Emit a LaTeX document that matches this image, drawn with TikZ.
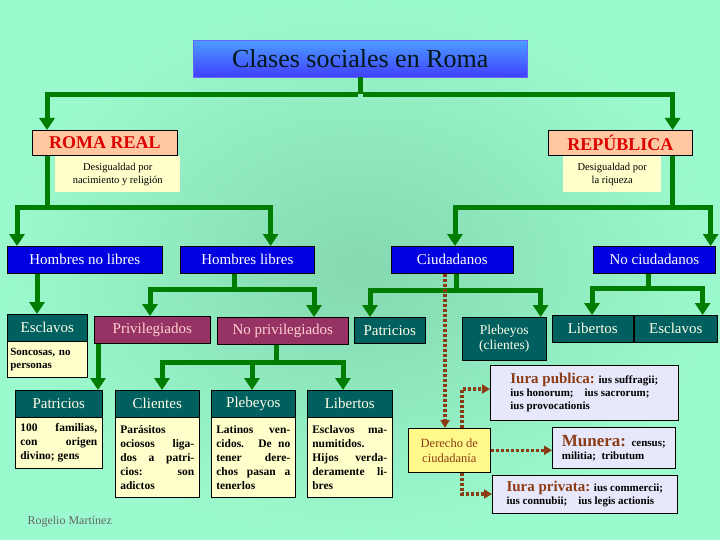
\documentclass[tikz,border=0pt]{standalone}
\usepackage{fontspec}
\setmainfont{Liberation Serif}
\usetikzlibrary{arrows.meta,calc}
\definecolor{bgout}{RGB}{155,250,205}
\definecolor{bgin}{RGB}{132,216,176}
\definecolor{gr}{RGB}{0,125,0}
\definecolor{bl}{RGB}{0,0,225}
\definecolor{teal}{RGB}{0,96,96}
\definecolor{maroon}{RGB}{150,50,100}
\definecolor{peach}{RGB}{255,200,160}
\definecolor{cream}{RGB}{255,255,204}
\definecolor{lav}{RGB}{232,232,252}
\definecolor{brn}{RGB}{140,60,20}
\definecolor{redt}{RGB}{220,0,0}
\tikzset{
 x=1pt,y=-1pt,
 base/.style={draw=black,line width=0.6pt,anchor=north west,inner sep=2pt,font=\fontsize{15}{17}\selectfont},
 bluebox/.style={base,fill=bl,text=white},
 tealbox/.style={base,fill=teal,text=white!90!yellow},
 marbox/.style={base,fill=maroon,text=pink!70!white},
 peachbox/.style={base,fill=peach,text=redt,font=\fontsize{18}{20}\selectfont\bfseries},
 body/.style={base,fill=cream,font=\fontsize{11.5}{14}\selectfont\bfseries,align=justify,inner xsep=5pt,inner ysep=4pt},
 note/.style={anchor=north west,fill=cream,font=\fontsize{10.5}{13}\selectfont,align=center},
 lavbox/.style={base,fill=lav,font=\fontsize{11}{13}\selectfont\bfseries,align=left,inner xsep=5pt},
 gline/.style={gr,line width=5pt},
 garrow/.style={gr,line width=5pt,-{Triangle[width=15pt,length=12pt]}},
 darrow/.style={brn,line width=3.5pt,dash pattern=on 3pt off 2pt,-{Triangle[width=9pt,length=8pt]}},
}
\begin{document}
\begin{tikzpicture}
\useasboundingbox (0,0) rectangle (720,540);
\shade[inner color=bgin,outer color=bgout] (0,0) rectangle (720,540);
% title
\node[anchor=north west,minimum width=334pt,minimum height=37pt,inner sep=0,
 top color=blue!55!cyan!70!white,bottom color=blue!75!white,draw=blue!60,
 text=black!75!teal,font=\fontsize{26}{28}\selectfont] (title) at (193,40) {Clases sociales en Roma};
\node[peachbox,minimum width=145pt,minimum height=25pt] (rr) at (32,130) {ROMA REAL};
\node[peachbox,minimum width=144pt,minimum height=25pt] (rep) at (548,130) {REPÚBLICA};
\node[note,minimum width=125pt,minimum height=36pt] (n1) at (55,156) {Desigualdad por\\nacimiento y religión};
\node[note,minimum width=98pt,minimum height=36pt] (n2) at (563,156) {Desigualdad por\\la riqueza};
% level 2
\node[bluebox,minimum width=155pt,minimum height=27pt] (hnl) at (7,246) {Hombres no libres};
\node[bluebox,minimum width=134pt,minimum height=27pt] (hl) at (180,246) {Hombres libres};
\node[bluebox,minimum width=122pt,minimum height=27pt] (ciu) at (391,246) {Ciudadanos};
\node[bluebox,minimum width=122pt,minimum height=27pt] (nciu) at (593,246) {No ciudadanos};
% level 3
\node[tealbox,minimum width=80pt,minimum height=27pt] (escl) at (7,314) {Esclavos};
\node[base,fill=cream,minimum width=80pt,minimum height=36pt,text width=74pt,font=\fontsize{11}{13}\selectfont\bfseries,align=left,inner xsep=3pt] (sonc) at (7,341) {Soncosas, no personas};
\node[marbox,minimum width=116pt,minimum height=27pt] (priv) at (94,316) {Privilegiados};
\node[marbox,minimum width=131pt,minimum height=27pt] (npriv) at (217,317) {No privilegiados};
\node[tealbox,minimum width=71pt,minimum height=26pt] (patr) at (354,317) {Patricios};
\node[tealbox,minimum width=84pt,minimum height=43pt,align=center,font=\fontsize{13.5}{15.5}\selectfont] (pleb) at (462,317) {Plebeyos\\(clientes)};
\node[tealbox,minimum width=81pt,minimum height=27pt] (lib) at (552,315) {Libertos};
\node[tealbox,minimum width=83pt,minimum height=27pt] (esc2) at (634,315) {Esclavos};
% level 4
\node[tealbox,minimum width=87pt,minimum height=27pt] (p4) at (15,390) {Patricios};
\node[tealbox,minimum width=84pt,minimum height=27pt] (c4) at (115,390) {Clientes};
\node[tealbox,minimum width=84pt,minimum height=27pt] (pl4) at (211,390) {Plebeyos};
\node[tealbox,minimum width=85pt,minimum height=27pt] (l4) at (307,390) {Libertos};
\node[body,text width=77pt,minimum height=51pt] (bp4) at (15,417) {100 familias,\linebreak con origen\linebreak divino; gens};
\node[body,text width=74pt,minimum height=80pt] (bc4) at (115,417) {Parásitos\\ ociosos liga-\linebreak dos a patri-\linebreak cios: son\linebreak adictos};
\node[body,text width=74pt,minimum height=80pt] (bpl4) at (211,417) {Latinos ven-\linebreak cidos. De no\linebreak tener dere-\linebreak chos pasan a\linebreak tenerlos};
\node[body,text width=75pt,minimum height=80pt] (bl4) at (307,417) {Esclavos ma-\linebreak numitidos.\\ Hijos verda-\linebreak deramente li-\linebreak bres};
% right-side
\node[base,fill=yellow!45!white,text=brn,minimum width=82pt,minimum height=44pt,align=center,font=\fontsize{12.5}{15}\selectfont] (der) at (408,428) {Derecho de\\ciudadanía};
\node[lavbox,minimum width=188pt,minimum height=55pt] (ipub) at (490,365) {\textcolor{brn}{\fontsize{15}{17}\selectfont Iura publica:} ius suffragii;\\ius honorum;\quad ius sacrorum;\\ius provocationis};
\node[lavbox,minimum width=123pt,minimum height=41pt] (mun) at (552,427) {\textcolor{brn}{\fontsize{17}{18}\selectfont Munera:}\ \ census;\\militia;\ \ tributum};
\node[lavbox,minimum width=185pt,minimum height=38pt] (ipriv) at (492,475) {\textcolor{brn}{\fontsize{15}{17}\selectfont Iura privata:} ius commercii;\\ius connubii;\quad ius legis actionis};
\node[anchor=north west,text=gray!80!black,font=\fontsize{12}{14}\selectfont] (rog) at (24,513) {Rogelio Martínez};
% connectors
\draw[gline] (title.south) -- ++(0,17) coordinate (t1);
\draw[garrow] ([xshift=-2.5pt]t1) -| ([xshift=15pt]rr.north west);
\draw[garrow] ([xshift=2.5pt]t1) -| ([xshift=-20pt]rep.north east);
\draw[gline] ([xshift=15pt]rr.south west) -- ([xshift=15pt,yshift=-52pt]rr.south west) coordinate (t2);
\draw[garrow] ([xshift=2.5pt]t2) -| ([xshift=10pt]hnl.north west);
\draw[garrow] ([xshift=-2.5pt]t2) -| ([xshift=-44pt]hl.north east);
\draw[gline] ([xshift=-20pt]rep.south east) -- ([xshift=-20pt,yshift=-52pt]rep.south east) coordinate (t3);
\draw[garrow] ([xshift=2.5pt]t3) -| ([xshift=64pt]ciu.north west);
\draw[garrow] ([xshift=-2.5pt]t3) -| ([xshift=-5pt]nciu.north east);
\draw[garrow] ([xshift=30pt]hnl.south west) -- ([xshift=30pt]escl.north west);
\draw[gline] ([xshift=54pt]hl.south west) -- ++(0,16) coordinate (t4);
\draw[garrow] ([xshift=2.5pt]t4) -| ([xshift=56pt]priv.north west);
\draw[garrow] ([xshift=-2.5pt]t4) -| ([xshift=97pt]npriv.north west);
\draw[garrow] ([xshift=4pt]priv.south west) -- ([xshift=83pt]p4.north west);
\draw[gline] ([xshift=59pt]npriv.south west) -- ++(0,18) coordinate (t5);
\draw[garrow] ([xshift=2.5pt]t5) -| ([xshift=47pt]c4.north west);
\draw[garrow] (t5) -| ([xshift=41pt]pl4.north west);
\draw[garrow] ([xshift=-2.5pt]t5) -| ([xshift=36pt]l4.north west);
\draw[gline] ([xshift=65pt]ciu.south west) -- ++(0,17) coordinate (t6);
\draw[garrow] ([xshift=2.5pt]t6) -| ([xshift=16pt]patr.north west);
\draw[garrow] ([xshift=-2.5pt]t6) -| ([xshift=-6pt]pleb.north east);
\draw[gline] ([xshift=55pt]nciu.south west) -- ++(0,15) coordinate (t7);
\draw[garrow] ([xshift=2.5pt]t7) -| ([xshift=40pt]lib.north west);
\draw[garrow] ([xshift=-2.5pt]t7) -| ([xshift=-15pt]esc2.north east);
\draw[darrow] ([xshift=54pt]ciu.south west) -- ([xshift=37pt]der.north west);
\draw[darrow] ([xshift=54pt]der.north west) |- (ipub.west |- 0,389);
\draw[darrow] (der.east) -- (der.east -| mun.west);
\draw[darrow] ([xshift=54pt]der.south west) |- (ipriv.west |- 0,494);
\end{tikzpicture}
\end{document}
